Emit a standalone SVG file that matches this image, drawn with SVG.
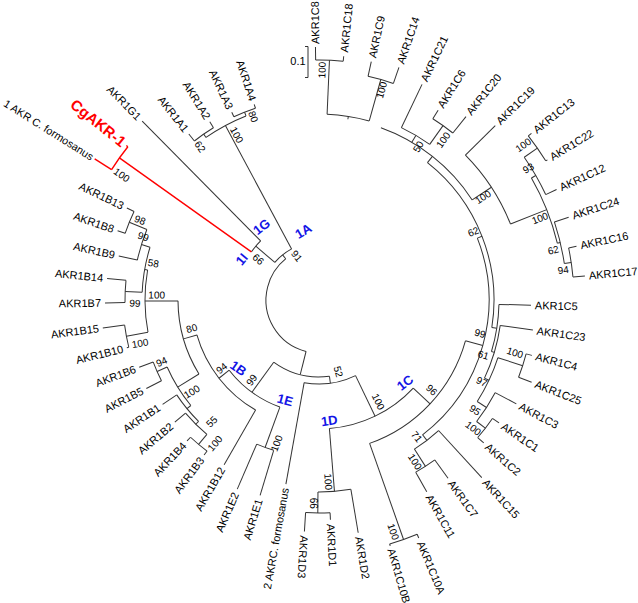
<svg xmlns="http://www.w3.org/2000/svg" width="638" height="603" viewBox="0 0 638 603">
<style>
.b{fill:none;stroke:#333;stroke-width:1}
.r{fill:none;stroke:#f00;stroke-width:1.4}
text{font-family:"Liberation Sans",Arial,sans-serif;fill:#000}
.l{font-size:11px}
.le{font-size:11px;text-anchor:end}
.n{font-size:10px;text-anchor:middle;dominant-baseline:central}
.c{font-size:13px;font-weight:bold;fill:#1414e6;text-anchor:middle;dominant-baseline:central}
</style>
<rect width="638" height="603" fill="#fff"/>
<g id="scale-bar">
<path class="b" d="M305,46.5H308V77.5H305"/>
<text class="l" x="298" y="65" text-anchor="middle">0.1</text>
</g>
<g transform="translate(319,300)">
<g id="connectors">
<circle class="b" r="53" transform="rotate(104.11)" stroke-dasharray="117.46 3000"/>
<circle class="b" r="58" transform="rotate(220.39)" stroke-dasharray="21.66 3000"/>
<circle class="b" r="83" transform="rotate(215.45)" stroke-dasharray="14.31 3000"/>
<circle class="r" r="245" transform="rotate(212.16)" stroke-dasharray="28.14 3000"/>
<circle class="b" r="198" transform="rotate(235.2)" stroke-dasharray="45.53 3000"/>
<circle class="b" r="202" transform="rotate(231.91)" stroke-dasharray="23.23 3000"/>
<circle class="b" r="202" transform="rotate(245.08)" stroke-dasharray="23.23 3000"/>
<circle class="b" r="77" transform="rotate(82.2)" stroke-dasharray="58.90 3000"/>
<circle class="b" r="114" transform="rotate(110.075)" stroke-dasharray="63.47 3000"/>
<circle class="b" r="157" transform="rotate(106.78)" stroke-dasharray="18.06 3000"/>
<circle class="b" r="127" transform="rotate(119.95)" stroke-dasharray="97.64 3000"/>
<circle class="b" r="141" transform="rotate(148.355)" stroke-dasharray="76.99 3000"/>
<circle class="b" r="166" transform="rotate(140.535)" stroke-dasharray="45.31 3000"/>
<circle class="b" r="177" transform="rotate(152.88)" stroke-dasharray="20.36 3000"/>
<circle class="b" r="171" transform="rotate(134.77)" stroke-dasharray="34.41 3000"/>
<circle class="b" r="175" transform="rotate(129.83)" stroke-dasharray="30.18 3000"/>
<circle class="b" r="188" transform="rotate(126.54)" stroke-dasharray="21.59 3000"/>
<circle class="b" r="174" transform="rotate(169.345)" stroke-dasharray="62.51 3000"/>
<circle class="b" r="196" transform="rotate(166.05)" stroke-dasharray="22.54 3000"/>
<circle class="b" r="177" transform="rotate(182.52)" stroke-dasharray="45.78 3000"/>
<circle class="b" r="194" transform="rotate(179.23)" stroke-dasharray="22.28 3000"/>
<circle class="b" r="186" transform="rotate(192.40)" stroke-dasharray="32.06 3000"/>
<circle class="b" r="205" transform="rotate(198.98)" stroke-dasharray="23.58 3000"/>
<circle class="b" r="84" transform="rotate(64.22)" stroke-dasharray="52.74 3000"/>
<circle class="b" r="129" transform="rotate(43.055)" stroke-dasharray="95.29 3000"/>
<circle class="b" r="192" transform="rotate(80.44)" stroke-dasharray="33.09 3000"/>
<circle class="b" r="213" transform="rotate(87.02)" stroke-dasharray="24.50 3000"/>
<circle class="b" r="152" transform="rotate(15.555)" stroke-dasharray="145.91 3000"/>
<circle class="b" r="254" transform="rotate(67.26)" stroke-dasharray="29.21 3000"/>
<circle class="b" r="170" transform="rotate(-21.34)" stroke-dasharray="218.94 3000"/>
<circle class="b" r="177" transform="rotate(47.51)" stroke-dasharray="30.51 3000"/>
<circle class="b" r="197.5" transform="rotate(54.09)" stroke-dasharray="22.72 3000"/>
<circle class="b" r="175" transform="rotate(-51.695)" stroke-dasharray="185.44 3000"/>
<circle class="b" r="180" transform="rotate(1.40)" stroke-dasharray="47.86 3000"/>
<circle class="b" r="183" transform="rotate(7.99)" stroke-dasharray="55.22 3000"/>
<circle class="b" r="188" transform="rotate(17.87)" stroke-dasharray="48.63 3000"/>
<circle class="b" r="214" transform="rotate(14.58)" stroke-dasharray="24.58 3000"/>
<circle class="b" r="199" transform="rotate(27.75)" stroke-dasharray="34.30 3000"/>
<circle class="b" r="210" transform="rotate(34.33)" stroke-dasharray="24.15 3000"/>
<circle class="b" r="183" transform="rotate(-70.22)" stroke-dasharray="118.34 3000"/>
<circle class="b" r="186" transform="rotate(-87.505)" stroke-dasharray="42.75 3000"/>
<circle class="b" r="240" transform="rotate(-90.80)" stroke-dasharray="27.60 3000"/>
<circle class="b" r="229" transform="rotate(-77.63)" stroke-dasharray="26.34 3000"/>
<circle class="b" r="191" transform="rotate(-64.46)" stroke-dasharray="32.95 3000"/>
<circle class="b" r="214" transform="rotate(-57.87)" stroke-dasharray="24.61 3000"/>
<circle class="b" r="206" transform="rotate(-44.70)" stroke-dasharray="82.89 3000"/>
<circle class="b" r="245" transform="rotate(-29.88)" stroke-dasharray="70.43 3000"/>
<circle class="b" r="250" transform="rotate(-34.82)" stroke-dasharray="43.11 3000"/>
<circle class="b" r="266" transform="rotate(-38.11)" stroke-dasharray="30.55 3000"/>
<circle class="b" r="248" transform="rotate(-18.35)" stroke-dasharray="42.74 3000"/>
<circle class="b" r="255" transform="rotate(-11.77)" stroke-dasharray="29.33 3000"/>
<line class="b" x1="53" x2="58" transform="rotate(231.09)"/>
<line class="b" x1="58" x2="83" transform="rotate(220.39)"/>
<line class="r" x1="83" x2="245" transform="rotate(215.45)"/>
<line class="b" x1="58" x2="198" transform="rotate(241.79)"/>
<line class="b" x1="198" x2="202" transform="rotate(235.2)"/>
<line class="b" x1="198" x2="202" transform="rotate(248.375)"/>
<line class="b" x1="53" x2="77" transform="rotate(104.11)"/>
<line class="b" x1="77" x2="114" transform="rotate(126.025)"/>
<line class="b" x1="114" x2="157" transform="rotate(110.075)"/>
<line class="b" x1="114" x2="127" transform="rotate(141.975)"/>
<line class="b" x1="127" x2="141" transform="rotate(164.0)"/>
<line class="b" x1="141" x2="166" transform="rotate(148.355)"/>
<line class="b" x1="166" x2="177" transform="rotate(156.175)"/>
<line class="b" x1="166" x2="171" transform="rotate(140.535)"/>
<line class="b" x1="171" x2="175" transform="rotate(134.77)"/>
<line class="b" x1="175" x2="188" transform="rotate(129.83)"/>
<line class="b" x1="141" x2="174" transform="rotate(179.64)"/>
<line class="b" x1="174" x2="196" transform="rotate(169.345)"/>
<line class="b" x1="174" x2="177" transform="rotate(189.93)"/>
<line class="b" x1="177" x2="194" transform="rotate(182.52)"/>
<line class="b" x1="177" x2="186" transform="rotate(197.34)"/>
<line class="b" x1="186" x2="205" transform="rotate(202.275)"/>
<line class="b" x1="77" x2="84" transform="rotate(82.2)"/>
<line class="b" x1="84" x2="129" transform="rotate(64.22)"/>
<line class="b" x1="129" x2="192" transform="rotate(85.38)"/>
<line class="b" x1="192" x2="213" transform="rotate(90.315)"/>
<line class="b" x1="129" x2="152" transform="rotate(43.055)"/>
<line class="b" x1="152" x2="254" transform="rotate(70.555)"/>
<line class="b" x1="152" x2="170" transform="rotate(15.555)"/>
<line class="b" x1="170" x2="177" transform="rotate(52.45)"/>
<line class="b" x1="177" x2="197.5" transform="rotate(57.385)"/>
<line class="b" x1="170" x2="175" transform="rotate(-21.34)"/>
<line class="b" x1="175" x2="180" transform="rotate(9.02)"/>
<line class="b" x1="180" x2="183" transform="rotate(16.635)"/>
<line class="b" x1="183" x2="188" transform="rotate(25.28)"/>
<line class="b" x1="188" x2="214" transform="rotate(17.87)"/>
<line class="b" x1="188" x2="199" transform="rotate(32.69)"/>
<line class="b" x1="199" x2="210" transform="rotate(37.625)"/>
<line class="b" x1="175" x2="183" transform="rotate(-51.695)"/>
<line class="b" x1="183" x2="186" transform="rotate(-80.92)"/>
<line class="b" x1="186" x2="240" transform="rotate(-87.505)"/>
<line class="b" x1="186" x2="229" transform="rotate(-74.335)"/>
<line class="b" x1="183" x2="191" transform="rotate(-59.52)"/>
<line class="b" x1="191" x2="214" transform="rotate(-54.575)"/>
<line class="b" x1="183" x2="206" transform="rotate(-33.17)"/>
<line class="b" x1="206" x2="245" transform="rotate(-21.645)"/>
<line class="b" x1="245" x2="250" transform="rotate(-29.88)"/>
<line class="b" x1="250" x2="266" transform="rotate(-34.82)"/>
<line class="b" x1="245" x2="248" transform="rotate(-13.41)"/>
<line class="b" x1="248" x2="255" transform="rotate(-8.475)"/>
</g>
<g id="AKR1C8"><line class="b" x1="240" x2="253" transform="rotate(-90.80)"/><text class="l" dy=".35em" transform="rotate(-90.80) translate(256,0)">AKR1C8</text></g>
<g id="AKR1C18"><line class="b" x1="240" x2="245" transform="rotate(-84.21)"/><text class="l" dy=".35em" transform="rotate(-84.21) translate(249,0)">AKR1C18</text></g>
<g id="AKR1C9"><line class="b" x1="229" x2="244" transform="rotate(-77.63)"/><text class="l" dy=".35em" transform="rotate(-77.63) translate(248,0)">AKR1C9</text></g>
<g id="AKR1C14"><line class="b" x1="229" x2="246" transform="rotate(-71.04)"/><text class="l" dy=".35em" transform="rotate(-71.04) translate(250,0)">AKR1C14</text></g>
<g id="AKR1C21"><line class="b" x1="191" x2="239" transform="rotate(-64.46)"/><text class="l" dy=".35em" transform="rotate(-64.46) translate(243,0)">AKR1C21</text></g>
<g id="AKR1C6"><line class="b" x1="214" x2="224" transform="rotate(-57.87)"/><text class="l" dy=".35em" transform="rotate(-57.87) translate(228,0)">AKR1C6</text></g>
<g id="AKR1C20"><line class="b" x1="214" x2="235" transform="rotate(-51.28)"/><text class="l" dy=".35em" transform="rotate(-51.28) translate(239,0)">AKR1C20</text></g>
<g id="AKR1C19"><line class="b" x1="206" x2="248" transform="rotate(-44.70)"/><text class="l" dy=".35em" transform="rotate(-44.70) translate(252,0)">AKR1C19</text></g>
<g id="AKR1C13"><line class="b" x1="266" x2="270" transform="rotate(-38.11)"/><text class="l" dy=".35em" transform="rotate(-38.11) translate(274,0)">AKR1C13</text></g>
<g id="AKR1C22"><line class="b" x1="266" x2="268" transform="rotate(-31.53)"/><text class="l" dy=".35em" transform="rotate(-31.53) translate(272,0)">AKR1C22</text></g>
<g id="AKR1C12"><line class="b" x1="250" x2="262" transform="rotate(-24.94)"/><text class="l" dy=".35em" transform="rotate(-24.94) translate(266,0)">AKR1C12</text></g>
<g id="AKR1C24"><line class="b" x1="248" x2="263" transform="rotate(-18.35)"/><text class="l" dy=".35em" transform="rotate(-18.35) translate(267,0)">AKR1C24</text></g>
<g id="AKR1C16"><line class="b" x1="255" x2="263" transform="rotate(-11.77)"/><text class="l" dy=".35em" transform="rotate(-11.77) translate(267,0)">AKR1C16</text></g>
<g id="AKR1C17"><line class="b" x1="255" x2="267" transform="rotate(-5.18)"/><text class="l" dy=".35em" transform="rotate(-5.18) translate(271,0)">AKR1C17</text></g>
<g id="AKR1C5"><line class="b" x1="180" x2="212" transform="rotate(1.40)"/><text class="l" dy=".35em" transform="rotate(1.40) translate(216,0)">AKR1C5</text></g>
<g id="AKR1C23"><line class="b" x1="183" x2="216" transform="rotate(7.99)"/><text class="l" dy=".35em" transform="rotate(7.99) translate(220,0)">AKR1C23</text></g>
<g id="AKR1C4"><line class="b" x1="214" x2="220" transform="rotate(14.58)"/><text class="l" dy=".35em" transform="rotate(14.58) translate(224,0)">AKR1C4</text></g>
<g id="AKR1C25"><line class="b" x1="214" x2="228" transform="rotate(21.16)"/><text class="l" dy=".35em" transform="rotate(21.16) translate(232,0)">AKR1C25</text></g>
<g id="AKR1C3"><line class="b" x1="199" x2="223" transform="rotate(27.75)"/><text class="l" dy=".35em" transform="rotate(27.75) translate(227,0)">AKR1C3</text></g>
<g id="AKR1C1"><line class="b" x1="210" x2="218" transform="rotate(34.33)"/><text class="l" dy=".35em" transform="rotate(34.33) translate(222,0)">AKR1C1</text></g>
<g id="AKR1C2"><line class="b" x1="210" x2="218" transform="rotate(40.92)"/><text class="l" dy=".35em" transform="rotate(40.92) translate(222,0)">AKR1C2</text></g>
<g id="AKR1C15"><line class="b" x1="177" x2="241" transform="rotate(47.51)"/><text class="l" dy=".35em" transform="rotate(47.51) translate(245,0)">AKR1C15</text></g>
<g id="AKR1C7"><line class="b" x1="197.5" x2="220" transform="rotate(54.09)"/><text class="l" dy=".35em" transform="rotate(54.09) translate(224,0)">AKR1C7</text></g>
<g id="AKR1C11"><line class="b" x1="197.5" x2="220" transform="rotate(60.68)"/><text class="l" dy=".35em" transform="rotate(60.68) translate(224,0)">AKR1C11</text></g>
<g id="AKR1C10A"><line class="b" x1="254" x2="258" transform="rotate(67.26)"/><text class="l" dy=".35em" transform="rotate(67.26) translate(262,0)">AKR1C10A</text></g>
<g id="AKR1C10B"><line class="b" x1="254" x2="256" transform="rotate(73.85)"/><text class="l" dy=".35em" transform="rotate(73.85) translate(259,0)">AKR1C10B</text></g>
<g id="AKR1D2"><line class="b" x1="192" x2="236" transform="rotate(80.44)"/><text class="l" dy=".35em" transform="rotate(80.44) translate(240,0)">AKR1D2</text></g>
<g id="AKR1D1"><line class="b" x1="213" x2="220" transform="rotate(87.02)"/><text class="l" dy=".35em" transform="rotate(87.02) translate(224,0)">AKR1D1</text></g>
<g id="AKR1D3"><line class="b" x1="213" x2="232" transform="rotate(93.61)"/><text class="l" dy=".35em" transform="rotate(93.61) translate(236,0)">AKR1D3</text></g>
<g id="AKRC-formosanus-2"><line class="b" x1="84" x2="187" transform="rotate(100.19)"/><text class="le" dy=".35em" transform="rotate(100.19) translate(191,0) rotate(180)">2 AKRC. formosanus</text></g>
<g id="AKR1E1"><line class="b" x1="157" x2="204" transform="rotate(106.78)"/><text class="le" dy=".35em" transform="rotate(106.78) translate(208,0) rotate(180)">AKR1E1</text></g>
<g id="AKR1E2"><line class="b" x1="157" x2="206" transform="rotate(113.37)"/><text class="le" dy=".35em" transform="rotate(113.37) translate(210,0) rotate(180)">AKR1E2</text></g>
<g id="AKR1B12"><line class="b" x1="127" x2="190" transform="rotate(119.95)"/><text class="le" dy=".35em" transform="rotate(119.95) translate(194,0) rotate(180)">AKR1B12</text></g>
<g id="AKR1B3"><line class="b" x1="188" x2="193" transform="rotate(126.54)"/><text class="le" dy=".35em" transform="rotate(126.54) translate(197,0) rotate(180)">AKR1B3</text></g>
<g id="AKR1B4"><line class="b" x1="188" x2="193" transform="rotate(133.12)"/><text class="le" dy=".35em" transform="rotate(133.12) translate(197,0) rotate(180)">AKR1B4</text></g>
<g id="AKR1B2"><line class="b" x1="175" x2="189" transform="rotate(139.71)"/><text class="le" dy=".35em" transform="rotate(139.71) translate(193,0) rotate(180)">AKR1B2</text></g>
<g id="AKR1B1"><line class="b" x1="171" x2="188" transform="rotate(146.30)"/><text class="le" dy=".35em" transform="rotate(146.30) translate(192,0) rotate(180)">AKR1B1</text></g>
<g id="AKR1B5"><line class="b" x1="177" x2="194" transform="rotate(152.88)"/><text class="le" dy=".35em" transform="rotate(152.88) translate(198,0) rotate(180)">AKR1B5</text></g>
<g id="AKR1B6"><line class="b" x1="177" x2="192" transform="rotate(159.47)"/><text class="le" dy=".35em" transform="rotate(159.47) translate(196,0) rotate(180)">AKR1B6</text></g>
<g id="AKR1B10"><line class="b" x1="196" x2="198" transform="rotate(166.05)"/><text class="le" dy=".35em" transform="rotate(166.05) translate(202,0) rotate(180)">AKR1B10</text></g>
<g id="AKR1B15"><line class="b" x1="196" x2="218" transform="rotate(172.64)"/><text class="le" dy=".35em" transform="rotate(172.64) translate(222,0) rotate(180)">AKR1B15</text></g>
<g id="AKR1B7"><line class="b" x1="194" x2="214" transform="rotate(179.23)"/><text class="le" dy=".35em" transform="rotate(179.23) translate(218,0) rotate(180)">AKR1B7</text></g>
<g id="AKR1B14"><line class="b" x1="194" x2="213" transform="rotate(185.81)"/><text class="le" dy=".35em" transform="rotate(185.81) translate(217,0) rotate(180)">AKR1B14</text></g>
<g id="AKR1B9"><line class="b" x1="186" x2="205" transform="rotate(192.40)"/><text class="le" dy=".35em" transform="rotate(192.40) translate(209,0) rotate(180)">AKR1B9</text></g>
<g id="AKR1B8"><line class="b" x1="205" x2="213" transform="rotate(198.98)"/><text class="le" dy=".35em" transform="rotate(198.98) translate(217,0) rotate(180)">AKR1B8</text></g>
<g id="AKR1B13"><line class="b" x1="205" x2="213" transform="rotate(205.57)"/><text class="le" dy=".35em" transform="rotate(205.57) translate(217,0) rotate(180)">AKR1B13</text></g>
<g id="AKR-C-formosanus-1"><line class="r" x1="245" x2="265" transform="rotate(212.16)"/><text class="le" dy=".35em" transform="rotate(212.16) translate(267.5,0) rotate(180)" style="font-size:10.8px">1 AKR C. formosanus</text></g>
<g id="CgAKR-1"><line class="r" x1="245" x2="247" transform="rotate(218.74)"/><text class="le" dy=".35em" transform="rotate(218.74) translate(250,0) rotate(180)" style="font-size:15px;font-weight:bold;fill:#f00">CgAKR-1</text></g>
<g id="AKR1G1"><line class="b" x1="83" x2="251.5" transform="rotate(225.33)"/><text class="le" dy=".35em" transform="rotate(225.33) translate(255.5,0) rotate(180)">AKR1G1</text></g>
<g id="AKR1A1"><line class="b" x1="202" x2="211" transform="rotate(231.91)"/><text class="le" dy=".35em" transform="rotate(231.91) translate(215,0) rotate(180)">AKR1A1</text></g>
<g id="AKR1A2"><line class="b" x1="202" x2="209" transform="rotate(238.50)"/><text class="le" dy=".35em" transform="rotate(238.50) translate(213,0) rotate(180)">AKR1A2</text></g>
<g id="AKR1A3"><line class="b" x1="202" x2="207" transform="rotate(245.08)"/><text class="le" dy=".35em" transform="rotate(245.08) translate(211,0) rotate(180)">AKR1A3</text></g>
<g id="AKR1A4"><line class="b" x1="202" x2="206" transform="rotate(251.67)"/><text class="le" dy=".35em" transform="rotate(251.67) translate(210,0) rotate(180)">AKR1A4</text></g>
</g>
<g id="bootstrap">
<text class="n" x="322" y="70" transform="rotate(-87.5 322 70)">100</text>
<text class="n" x="381.7" y="90" transform="rotate(-74.3 381.7 90)">100</text>
<text class="n" x="418.3" y="146.7" transform="rotate(-59.5 418.3 146.7)">50</text>
<text class="n" x="443.3" y="140" transform="rotate(-54.6 443.3 140)">100</text>
<text class="n" x="483" y="197" transform="rotate(-33.2 483 197)">100</text>
<text class="n" x="523.3" y="145" transform="rotate(-34.8 523.3 145)">100</text>
<text class="n" x="528.3" y="168.3" transform="rotate(-29.9 528.3 168.3)">93</text>
<text class="n" x="540" y="218.3" transform="rotate(-21.6 540 218.3)">100</text>
<text class="n" x="553.3" y="250" transform="rotate(-13.4 553.3 250)">62</text>
<text class="n" x="563.3" y="270" transform="rotate(-8.5 563.3 270)">94</text>
<text class="n" x="473.3" y="231.7" transform="rotate(-21.3 473.3 231.7)">62</text>
<text class="n" x="480" y="333.3" transform="rotate(15.6 480 333.3)">99</text>
<text class="n" x="483.3" y="355" transform="rotate(16.6 483.3 355)">61</text>
<text class="n" x="481.7" y="381.7" transform="rotate(25.3 481.7 381.7)">97</text>
<text class="n" x="475" y="410" transform="rotate(32.7 475 410)">95</text>
<text class="n" x="473.3" y="428.3" transform="rotate(37.6 473.3 428.3)">100</text>
<text class="n" x="515" y="352.7" transform="rotate(17.9 515 352.7)">100</text>
<text class="n" x="416.7" y="436.7" transform="rotate(52.5 416.7 436.7)">71</text>
<text class="n" x="415" y="461.7" transform="rotate(57.4 415 461.7)">100</text>
<text class="n" x="431.7" y="390" transform="rotate(43.1 431.7 390)">96</text>
<text class="n" x="393.3" y="531.7" transform="rotate(70.6 393.3 531.7)">100</text>
<text class="n" x="378.3" y="401.7" transform="rotate(64.2 378.3 401.7)">100</text>
<text class="n" x="328.3" y="481.7" transform="rotate(85.4 328.3 481.7)">100</text>
<text class="n" x="313.3" y="503.3" transform="rotate(90 313.3 503.3)">66</text>
<text class="n" x="338.3" y="371.7" transform="rotate(75 338.3 371.7)">52</text>
<text class="n" x="276.7" y="443.3" transform="rotate(-69.9 276.7 443.3)">100</text>
<text class="n" x="251.7" y="380" transform="rotate(-54 251.7 380)">99</text>
<text class="n" x="221.7" y="368.3" transform="rotate(-38 221.7 368.3)">94</text>
<text class="n" x="191.7" y="328.3" transform="rotate(-16 191.7 328.3)">80</text>
<text class="n" x="191.7" y="391.7" transform="rotate(-31.6 191.7 391.7)">100</text>
<text class="n" x="161.7" y="361.7" transform="rotate(-23.8 161.7 361.7)">94</text>
<text class="n" x="211.7" y="421.7" transform="rotate(-45.2 211.7 421.7)">55</text>
<text class="n" x="215" y="443.3" transform="rotate(-50.2 215 443.3)">100</text>
<text class="n" x="156.7" y="295" transform="rotate(-0.4 156.7 295)">100</text>
<text class="n" x="140" y="343.3" transform="rotate(-10.7 140 343.3)">100</text>
<text class="n" x="135" y="303.3" transform="rotate(2.5 135 303.3)">99</text>
<text class="n" x="153.3" y="263.3" transform="rotate(9.9 153.3 263.3)">58</text>
<text class="n" x="143.3" y="236.7" transform="rotate(17.3 143.3 236.7)">99</text>
<text class="n" x="140" y="220" transform="rotate(22.3 140 220)">98</text>
<text class="n" x="121.7" y="175" transform="rotate(35.45 121.7 175)">100</text>
<text class="n" x="258.3" y="259.3" transform="rotate(40.4 258.3 259.3)">66</text>
<text class="n" x="296.7" y="256" transform="rotate(51.1 296.7 256)">91</text>
<text class="n" x="236.7" y="135" transform="rotate(61.8 236.7 135)">100</text>
<text class="n" x="200" y="146.7" transform="rotate(55.2 200 146.7)">62</text>
<text class="n" x="253.3" y="116.7" transform="rotate(68.4 253.3 116.7)">80</text>
</g>
<g id="clade-labels">
<text class="c" x="303.3" y="231" transform="rotate(-31 303.3 231)">1A</text>
<text class="c" x="261.7" y="226.7" transform="rotate(-38 261.7 226.7)">1G</text>
<text class="c" x="241.7" y="259.3" transform="rotate(-50 241.7 259.3)">1I</text>
<text class="c" x="238.3" y="368.3" transform="rotate(35 238.3 368.3)">1B</text>
<text class="c" x="285" y="400" transform="rotate(15 285 400)">1E</text>
<text class="c" x="329.3" y="420.7" transform="rotate(-8 329.3 420.7)">1D</text>
<text class="c" x="405" y="382.7" transform="rotate(-38 405 382.7)">1C</text>
</g>
</svg>
